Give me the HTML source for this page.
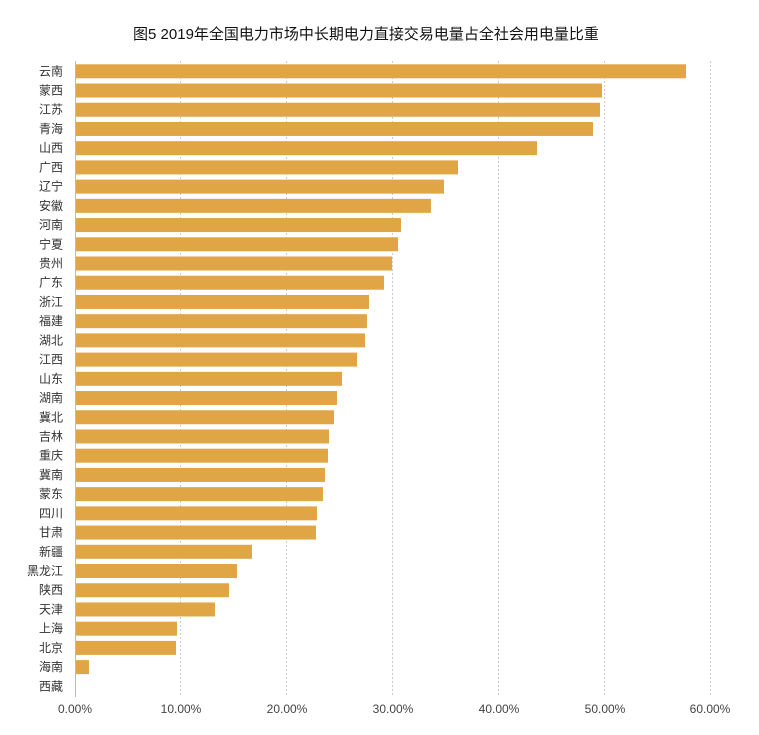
<!DOCTYPE html>
<html><head><meta charset="utf-8"><style>body{margin:0;background:#fff}svg{display:block}text{font-family:"Liberation Sans","Noto Sans CJK SC",sans-serif;}</style></head>
<body>
<svg width="759" height="735" xmlns="http://www.w3.org/2000/svg">
<text x="366" y="39" text-anchor="middle" font-size="15" fill="#111">图5 2019年全国电力市场中长期电力直接交易电量占全社会用电量比重</text>
<g stroke="#ccc" stroke-dasharray="2,2" stroke-width="1">
<line x1="180.5" y1="61" x2="180.5" y2="697"/><line x1="286.5" y1="61" x2="286.5" y2="697"/><line x1="392.5" y1="61" x2="392.5" y2="697"/><line x1="498.5" y1="61" x2="498.5" y2="697"/><line x1="604.5" y1="61" x2="604.5" y2="697"/><line x1="710.5" y1="61" x2="710.5" y2="697"/>
</g>
<line x1="75.5" y1="61" x2="75.5" y2="697" stroke="#bbb"/>
<g font-size="12" fill="#444" text-anchor="middle">
<text x="75" y="713">0.00%</text><text x="181" y="713">10.00%</text><text x="287" y="713">20.00%</text><text x="393" y="713">30.00%</text><text x="499" y="713">40.00%</text><text x="605" y="713">50.00%</text><text x="710" y="713">60.00%</text>
</g>
<g id="bars" fill="#e0a545"></g>
<g id="labels" font-size="12" fill="#333" text-anchor="end"></g>
<script>
var d=[["云南",686],["蒙西",602],["江苏",600],["青海",593],["山西",537],["广西",458],["辽宁",444],["安徽",431],["河南",401],["宁夏",398],["贵州",392],["广东",384],["浙江",369],["福建",367],["湖北",365],["江西",357],["山东",342],["湖南",337],["冀北",334],["吉林",329],["重庆",328],["冀南",325],["蒙东",323],["四川",317],["甘肃",316],["新疆",252],["黑龙江",237],["陕西",229],["天津",215],["上海",177],["北京",176],["海南",89],["西藏",75]];
var ns="http://www.w3.org/2000/svg",b=document.getElementById("bars"),l=document.getElementById("labels");
d.forEach(function(r,i){var c=71.3+i*19.22;
if(r[1]>75){var e=document.createElementNS(ns,"rect");e.setAttribute("x",76);e.setAttribute("y",c-7);e.setAttribute("width",r[1]-76);e.setAttribute("height",14);b.appendChild(e);}
var t=document.createElementNS(ns,"text");t.setAttribute("x",63);t.setAttribute("y",c+4);t.textContent=r[0];l.appendChild(t);});
</script>
</svg>
</body></html>
